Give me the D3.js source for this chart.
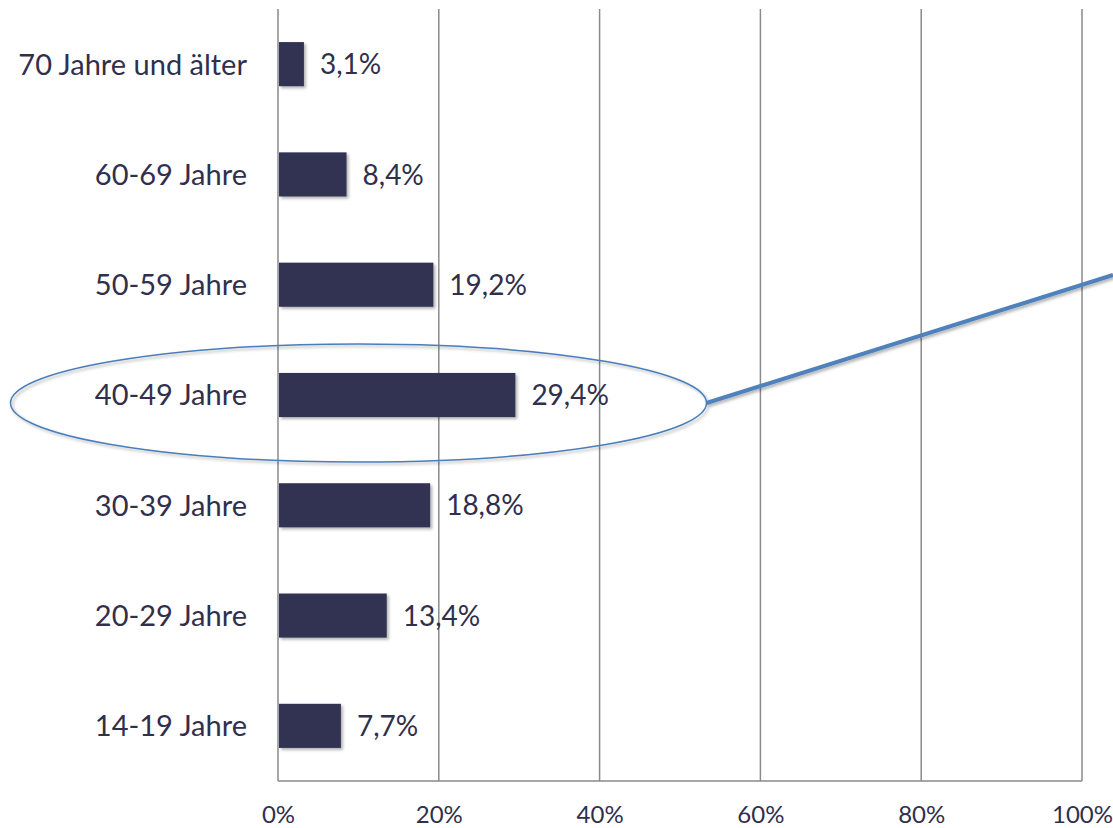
<!DOCTYPE html>
<html>
<head>
<meta charset="utf-8">
<script src="https://cdn.jsdelivr.net/npm/d3@7"></script>
<style>
  body { margin: 0; background: #fff; }
  text { font-family: Lato, 'Open Sans', sans-serif; fill: #302f4c; }
</style>
</head>
<body>
<div class="chart-container"></div>
<script>
let categories = ['70 Jahre und älter', '60-69 Jahre', '50-59 Jahre', '40-49 Jahre', '30-39 Jahre', '20-29 Jahre', '14-19 Jahre']
let values = [3.1, 8.4, 19.2, 29.4, 18.8, 13.4, 7.7]
let ticks = [0, 20, 40, 60, 80, 100]
let highlight = '40-49 Jahre'

let margin = { top: 9, right: 31, bottom: 47, left: 278 },
    fullWidth = 1113,
    fullHeight = 828,
    width = fullWidth - margin.left - margin.right,
    height = fullHeight - margin.top - margin.bottom

let svg = d3.select('.chart-container')
  .append('svg')
  .attr('width', fullWidth)
  .attr('height', fullHeight)

let defs = svg.append('defs')
let shadow = defs.append('filter')
  .attr('id', 'shadow')
  .attr('x', '-10%').attr('y', '-10%')
  .attr('width', '130%').attr('height', '140%')
shadow.append('feDropShadow')
  .attr('dx', 2).attr('dy', 2)
  .attr('stdDeviation', 1.5)
  .attr('flood-color', '#000')
  .attr('flood-opacity', 0.3)

let g = svg.append('g')
  .attr('transform', `translate(${margin.left},${margin.top})`)

let x = d3.scaleLinear()
  .domain([0, 100])
  .range([0, width])

let y = d3.scaleBand()
  .domain(categories)
  .range([0, height])
  .paddingInner(0.6)
  .paddingOuter(0.3)

// gridlines
g.selectAll('.grid')
  .data(ticks)
  .enter()
  .append('line')
  .attr('class', 'grid')
  .attr('x1', d => x(d))
  .attr('x2', d => x(d))
  .attr('y1', 0)
  .attr('y2', height)
  .attr('stroke', '#8a8a8a')
  .attr('stroke-width', 1.5)

// bottom axis line
g.append('line')
  .attr('x1', x(0))
  .attr('x2', x(100))
  .attr('y1', height)
  .attr('y2', height)
  .attr('stroke', '#8a8a8a')
  .attr('stroke-width', 1.5)

let xAxis = g.append('g')
  .attr('transform', `translate(0,${height})`)
  .call(d3.axisBottom(x).tickValues(ticks).tickSize(0).tickPadding(25).tickFormat(d => d + '%'))
xAxis.select('.domain').remove()
xAxis.selectAll('text')
  .style('font-size', '24px')
  .style('font-family', 'Lato, sans-serif')
  .attr('fill', '#302f4c')

// bars
g.selectAll('.bar')
  .data(values)
  .enter()
  .append('rect')
  .attr('class', 'bar')
  .attr('x', x(0) + 1)
  .attr('y', (d, i) => y(categories[i]))
  .attr('width', d => x(d) - x(0))
  .attr('height', y.bandwidth())
  .attr('fill', '#333152')
  .attr('filter', 'url(#shadow)')

// value labels
g.selectAll('.value')
  .data(values)
  .enter()
  .append('text')
  .attr('class', 'value')
  .attr('x', d => x(d) + 17)
  .attr('y', (d, i) => y(categories[i]) + y.bandwidth() / 2)
  .attr('dy', '0.36em')
  .style('font-size', '28px')
  .text(d => d.toFixed(1).replace('.', ',') + '%')

// category labels
g.selectAll('.cat')
  .data(categories)
  .enter()
  .append('text')
  .attr('class', 'cat')
  .attr('x', -31)
  .attr('y', d => y(d) + y.bandwidth() / 2)
  .attr('dy', '0.36em')
  .attr('text-anchor', 'end')
  .style('font-size', '29px')
  .text(d => d)

// highlight ellipse and pointer line
let cy = y(highlight) + y.bandwidth() / 2 + 8
let cx = 80.5, rx = 348, ry = 59
g.append('ellipse')
  .attr('cx', cx)
  .attr('cy', cy)
  .attr('rx', rx)
  .attr('ry', ry)
  .attr('fill', 'none')
  .attr('stroke', '#4a7ebb')
  .attr('stroke-width', 1.5)
  .attr('filter', 'url(#shadow)')

g.append('line')
  .attr('x1', cx + rx)
  .attr('y1', cy)
  .attr('x2', fullWidth - margin.left)
  .attr('y2', cy - 128)
  .attr('stroke', '#4f81bd')
  .attr('stroke-width', 4)
  .attr('filter', 'url(#shadow)')
</script>
</body>
</html>
